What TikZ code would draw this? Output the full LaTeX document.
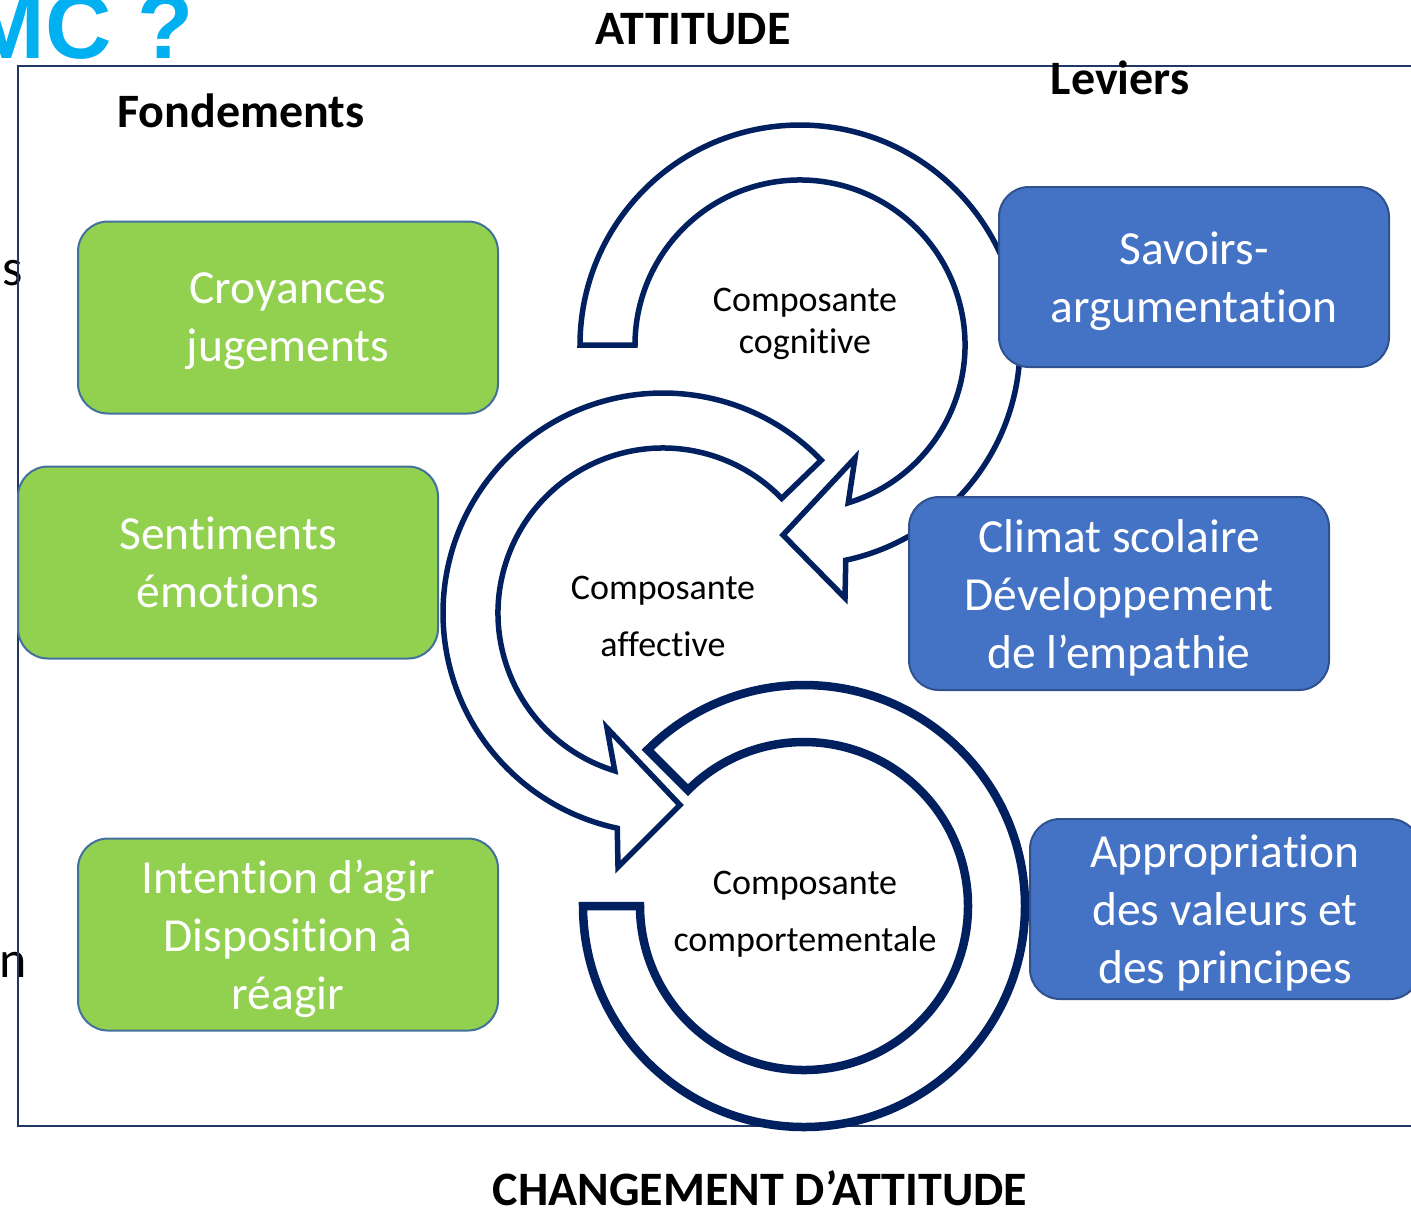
\documentclass[tikz,border=0pt]{standalone}
\usepackage{fontspec}
\setmainfont{Carlito}[Ligatures={NoCommon}]
\newfontfamily\arialfont{Liberation Sans}

\definecolor{boxgreen}{HTML}{92D050}
\definecolor{greenline}{HTML}{41719C}
\definecolor{boxblue}{HTML}{4472C4}
\definecolor{blueline}{HTML}{2F528F}
\definecolor{navyline}{HTML}{002060}
\definecolor{framecol}{HTML}{1F3864}
\definecolor{mccyan}{HTML}{00B0F0}

\tikzset{
  fondement/.style={draw=greenline, fill=boxgreen, line width=1pt, rounded corners=15pt,
    minimum width=210pt, minimum height=96pt, text=white, align=center, text depth=0pt,
    font=\fontsize{23.75}{29}\selectfont},
  levier/.style={draw=blueline, fill=boxblue, line width=1pt, rounded corners=15pt,
    minimum width=195pt, minimum height=90pt, text=white, align=center, text depth=0pt,
    font=\fontsize{23.75}{29}\selectfont},
  composante/.style={align=center, text depth=0pt, font=\fontsize{18}{28.5}\selectfont},
  titre/.style={inner sep=0pt, font=\fontsize{24}{29}\selectfont\bfseries},
  reste/.style={anchor=base east, inner sep=0pt, font=\fontsize{26}{30}\selectfont},
  circarrow/.style={draw=navyline, fill=white, line width=2.75pt}
}

\begin{document}
\begin{tikzpicture}[x=0.5pt,y=0.5pt]
\useasboundingbox (0,0) rectangle (1411,-1207);

% bits of text cut at the left edge
\node[reste] (resteS) at (23,-285) {s};
\node[reste] (resteN) at (27,-977) {n};

% frame
\draw[framecol,line width=1pt] (1420,-66) -- (18,-66) -- (18,-1126) -- (1420,-1126);

% titles
\node[anchor=base east,inner sep=0pt,text=mccyan,font=\arialfont\fontsize{46}{50}\selectfont\bfseries] (question) at (194,-58) {MC ?};
\node[titre] (attitude) at (693,-29) {ATTITUDE};
\node[titre] (fondements) at (241,-111) {Fondements};
\node[titre] (leviers) at (1120,-78) {Leviers};
\node[titre] (changement) at (760,-1188) {CHANGEMENT D’ATTITUDE};

% circular arrows
\begin{scope}[shift={(804,-906)}]
\draw[circarrow,line width=4.25pt] (180:221) arc[start angle=180, end angle=495, radius=221]
  -- (135:164) arc[start angle=495, end angle=180, radius=164] -- cycle;
\end{scope}
\begin{scope}[shift={(800,-345)}]
\draw[circarrow] (180:220) arc[start angle=180, end angle=-78, radius=220]
  -- (45,-253) -- (-17,-190) -- (55,-113)
  -- (-73:165) arc[start angle=-73, end angle=180, radius=165] -- cycle;
\end{scope}
\begin{scope}[shift={(663,-613)}]
\draw[circarrow] (44:220) arc[start angle=44, end angle=258, radius=220]
  -- (-45,-254) -- (17,-192) -- (-56,-115)
  -- (253:165) arc[start angle=253, end angle=44, radius=165] -- cycle;
\end{scope}

\node[composante,font=\fontsize{18}{21}\selectfont] (cognitive) at (805,-321) {Composante\\cognitive};
\node[composante] (affective) at (663,-616) {Composante\\affective};
\node[composante] (comportementale) at (805,-911) {Composante\\comportementale};

% fondements
\node[fondement] (croyances) at (288,-317.5) {Croyances\\jugements};
\node[fondement] (sentiments) at (228,-562.5) {Sentiments\\émotions};
\node[fondement] (intention) at (288,-934.5) {Intention d’agir\\Disposition à\\réagir};

% leviers
\node[levier] (savoirs) at (1194,-277) {Savoirs-\\argumentation};
\node[levier,minimum width=210pt,minimum height=96.5pt] (climat) at (1119,-593.5) {Climat scolaire\\Développement\\de l’empathie};
\node[levier] (appropriation) at (1225,-909) {Appropriation\\des valeurs et\\des principes};

\end{tikzpicture}
\end{document}
